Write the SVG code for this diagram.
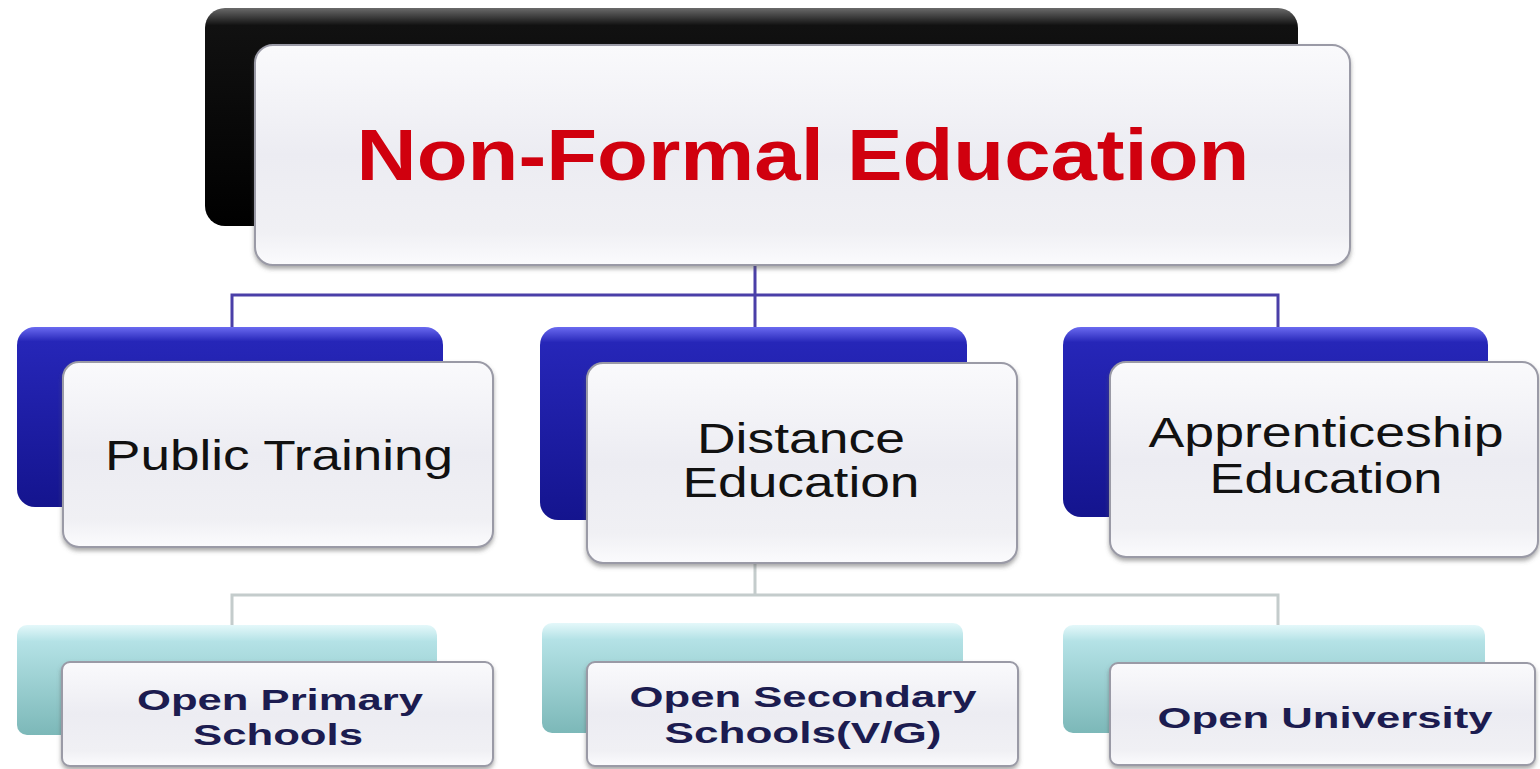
<svg xmlns="http://www.w3.org/2000/svg" width="1540" height="769" viewBox="0 0 1540 769">
<style>
.front{fill:url(#gFront);stroke:#9a9aa6;stroke-width:2;filter:url(#sh)}
.back1{fill:url(#gBlack)}
.back2{fill:url(#gBlue)}
.back3{fill:url(#gTeal)}
.t1{font-family:"Liberation Sans",Arial,sans-serif;font-weight:bold;fill:#d0000e;font-size:72px}
.t2{font-family:"Liberation Sans",Arial,sans-serif;fill:#111;font-size:42px}
.t3{font-family:"Liberation Sans",Arial,sans-serif;font-weight:bold;fill:#1c1c50;font-size:30px}
.c1{stroke:#4a3fa8;stroke-width:3;fill:none}
.c2{stroke:#c4cccc;stroke-width:3;fill:none}
</style>
<defs>
<linearGradient id="gFront" x1="0" y1="0" x2="0" y2="1">
<stop offset="0" stop-color="#fafafc"/>
<stop offset="0.5" stop-color="#ececf2"/>
<stop offset="0.85" stop-color="#f0f0f4"/>
<stop offset="1" stop-color="#fbfbfd"/>
</linearGradient>
<linearGradient id="gBlack" x1="0" y1="0" x2="0" y2="1">
<stop offset="0" stop-color="#6a6a6a"/>
<stop offset="0.08" stop-color="#111"/>
<stop offset="1" stop-color="#000"/>
</linearGradient>
<linearGradient id="gBlue" x1="0" y1="0" x2="0" y2="1">
<stop offset="0" stop-color="#6a6af0"/>
<stop offset="0.08" stop-color="#2626b8"/>
<stop offset="1" stop-color="#14148e"/>
</linearGradient>
<linearGradient id="gTeal" x1="0" y1="0" x2="0" y2="1">
<stop offset="0" stop-color="#e4f8fa"/>
<stop offset="0.15" stop-color="#b4e2e6"/>
<stop offset="1" stop-color="#7cb8b8"/>
</linearGradient>
<filter id="sh" x="-5%" y="-5%" width="110%" height="115%">
<feDropShadow dx="0" dy="3" stdDeviation="2" flood-color="#555" flood-opacity="0.5"/>
</filter>
</defs>
<rect width="1540" height="769" fill="#ffffff"/>
<g id="connectors">
<path class="c1" d="M755 265 V327 M232 327 V295 H1278 V327"/>
<path class="c2" d="M755 563 V595 M232 625 V595 H1278 V625"/>
</g>
<g id="node-nonformal">
<rect class="back1" x="205" y="8" width="1093" height="218" rx="20"/>
<rect class="front" x="255" y="45" width="1095" height="220" rx="18"/>
<text class="t1" x="803" y="180" text-anchor="middle" textLength="893" lengthAdjust="spacingAndGlyphs">Non-Formal Education</text>
</g>
<g id="node-public">
<rect class="back2" x="17" y="327" width="426" height="180" rx="18"/>
<rect class="front" x="63" y="362" width="430" height="185" rx="16"/>
<text class="t2" x="279" y="470" text-anchor="middle" textLength="348" lengthAdjust="spacingAndGlyphs">Public Training</text>
</g>
<g id="node-distance">
<rect class="back2" x="540" y="327" width="427" height="193" rx="18"/>
<rect class="front" x="587" y="363" width="430" height="200" rx="16"/>
<text class="t2" x="801" y="453" text-anchor="middle" textLength="208" lengthAdjust="spacingAndGlyphs">Distance</text>
<text class="t2" x="801" y="497" text-anchor="middle" textLength="237" lengthAdjust="spacingAndGlyphs">Education</text>
</g>
<g id="node-apprenticeship">
<rect class="back2" x="1063" y="327" width="425" height="190" rx="18"/>
<rect class="front" x="1110" y="362" width="428" height="195" rx="16"/>
<text class="t2" x="1326" y="447" text-anchor="middle" textLength="355" lengthAdjust="spacingAndGlyphs">Apprenticeship</text>
<text class="t2" x="1326" y="493" text-anchor="middle" textLength="233" lengthAdjust="spacingAndGlyphs">Education</text>
</g>
<g id="node-openprimary">
<rect class="back3" x="17" y="625" width="420" height="110" rx="10"/>
<rect class="front" x="62" y="662" width="431" height="104" rx="8"/>
<text class="t3" x="280" y="710" text-anchor="middle" textLength="286" lengthAdjust="spacingAndGlyphs">Open Primary</text>
<text class="t3" x="278" y="745" text-anchor="middle" textLength="170" lengthAdjust="spacingAndGlyphs">Schools</text>
</g>
<g id="node-opensecondary">
<rect class="back3" x="542" y="623" width="421" height="110" rx="10"/>
<rect class="front" x="587" y="662" width="431" height="104" rx="8"/>
<text class="t3" x="803" y="707" text-anchor="middle" textLength="347" lengthAdjust="spacingAndGlyphs">Open Secondary</text>
<text class="t3" x="803" y="743" text-anchor="middle" textLength="277" lengthAdjust="spacingAndGlyphs">Schools(V/G)</text>
</g>
<g id="node-openuniversity">
<rect class="back3" x="1063" y="625" width="422" height="108" rx="10"/>
<rect class="front" x="1110" y="663" width="425" height="102" rx="8"/>
<text class="t3" x="1325" y="728" text-anchor="middle" textLength="335" lengthAdjust="spacingAndGlyphs">Open University</text>
</g>
</svg>
